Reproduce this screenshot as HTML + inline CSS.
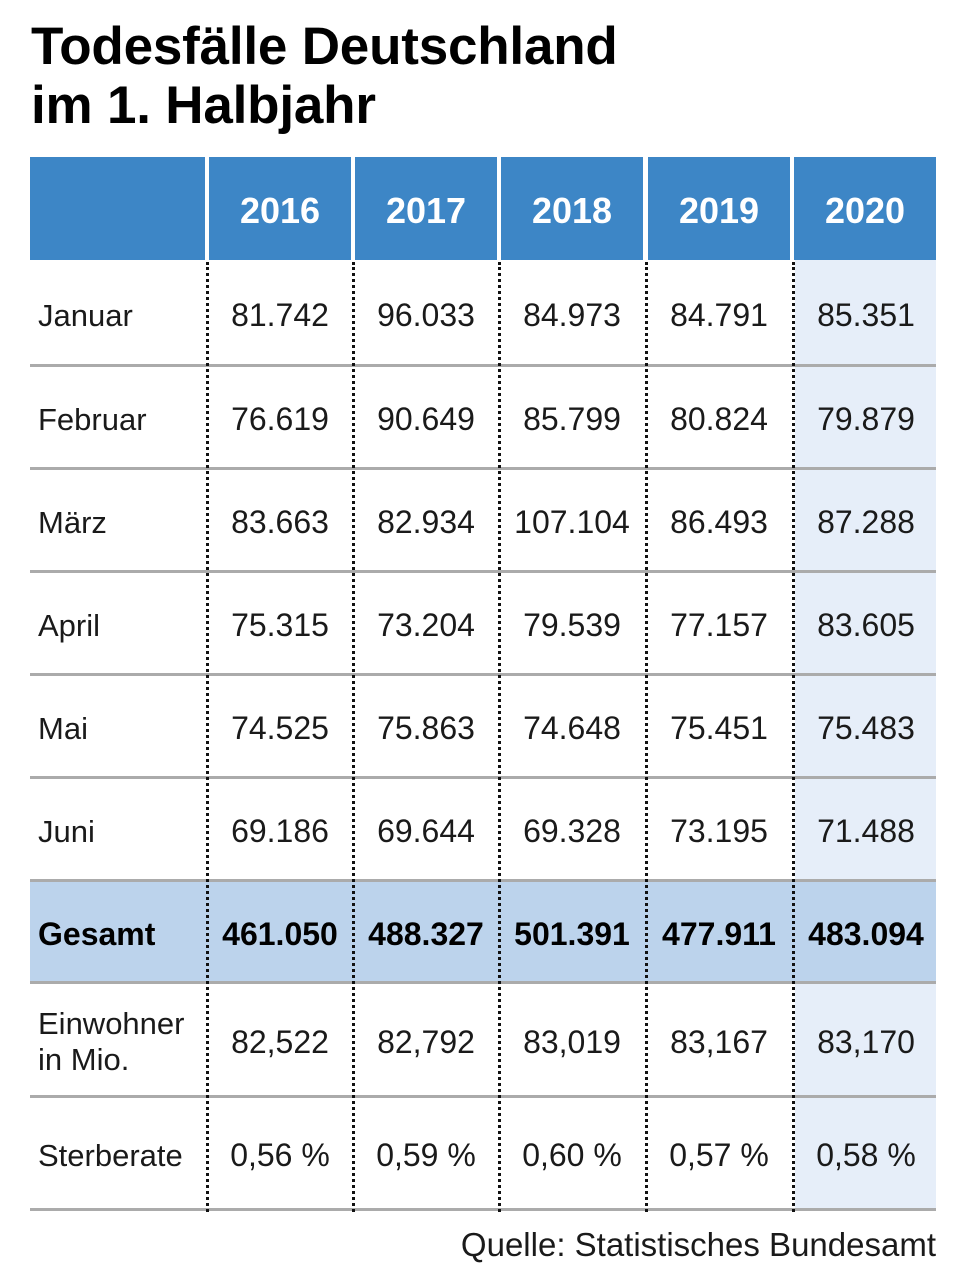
<!DOCTYPE html>
<html><head><meta charset="utf-8"><style>
body{margin:0;width:956px;height:1280px;background:#fff;position:relative;overflow:hidden;font-family:"Liberation Sans",sans-serif;color:#1a1a1a}
.a{position:absolute}
.t{left:31px;font-weight:bold;font-size:53px;color:#000;line-height:1;letter-spacing:-0.2px}
.h{top:157px;height:103px;background:#3d86c6;color:#fff;font-weight:bold;font-size:36px;display:flex;align-items:center;justify-content:center;padding-top:4px;box-sizing:border-box}
.hl{position:absolute;left:30px;width:906px;height:3px;background:#ababab}
.v{position:absolute;top:262px;height:950px;width:0;border-left:3px dotted #111}
.c{position:absolute;width:146px;text-align:center;font-size:32px;display:flex;align-items:center;justify-content:center;padding-top:5px;box-sizing:border-box}
.l{position:absolute;left:38px;font-size:31px;display:flex;align-items:center;line-height:1.15;padding-top:5px;box-sizing:border-box}
.b{font-weight:bold;font-size:32px;color:#000}
</style></head><body>
<div class="a t" style="top:20px">Todesfälle Deutschland</div>
<div class="a t" style="top:79px">im 1. Halbjahr</div>

<div class="a h" style="left:30px;width:175px"></div>
<div class="a h" style="left:209px;width:142px">2016</div>
<div class="a h" style="left:355px;width:142px">2017</div>
<div class="a h" style="left:501px;width:142px">2018</div>
<div class="a h" style="left:648px;width:142px">2019</div>
<div class="a h" style="left:794px;width:142px">2020</div>

<div class="a" style="left:795px;top:260px;width:141px;height:950px;background:#e6eef9"></div>
<div class="a" style="left:30px;top:881px;width:906px;height:101px;background:#bcd3ec"></div>

<div class="hl" style="top:364px"></div>
<div class="hl" style="top:467px"></div>
<div class="hl" style="top:570px"></div>
<div class="hl" style="top:673px"></div>
<div class="hl" style="top:776px"></div>
<div class="hl" style="top:879px"></div>
<div class="hl" style="top:981px"></div>
<div class="hl" style="top:1095px"></div>
<div class="hl" style="top:1208px"></div>

<div class="v" style="left:206px"></div>
<div class="v" style="left:352px"></div>
<div class="v" style="left:498px"></div>
<div class="v" style="left:645px"></div>
<div class="v" style="left:792px"></div>

<div id="rows"></div>
<script>
var rows=[
["Januar",262,364,["81.742","96.033","84.973","84.791","85.351"]],
["Februar",367,467,["76.619","90.649","85.799","80.824","79.879"]],
["März",470,570,["83.663","82.934","107.104","86.493","87.288"]],
["April",573,673,["75.315","73.204","79.539","77.157","83.605"]],
["Mai",676,776,["74.525","75.863","74.648","75.451","75.483"]],
["Juni",779,879,["69.186","69.644","69.328","73.195","71.488"]],
["Gesamt",882,981,["461.050","488.327","501.391","477.911","483.094"],1],
["Einwohner<br>in Mio.",984,1095,["82,522","82,792","83,019","83,167","83,170"]],
["Sterberate",1098,1208,["0,56 %","0,59 %","0,60 %","0,57 %","0,58 %"]]
];
var lefts=[207,353,499,646,793],h="";
rows.forEach(function(r){
 var b=r[4]?" b":"";
 h+='<div class="l'+b+'" style="top:'+r[1]+'px;height:'+(r[2]-r[1])+'px">'+r[0]+'</div>';
 r[3].forEach(function(v,i){
  h+='<div class="c'+b+'" style="left:'+lefts[i]+'px;top:'+r[1]+'px;height:'+(r[2]-r[1])+'px">'+v+'</div>';
 });
});
document.getElementById("rows").innerHTML=h;
</script>
<div class="a" style="right:20px;top:1226px;font-size:33px;color:#1a1a1a">Quelle: Statistisches Bundesamt</div>
</body></html>
